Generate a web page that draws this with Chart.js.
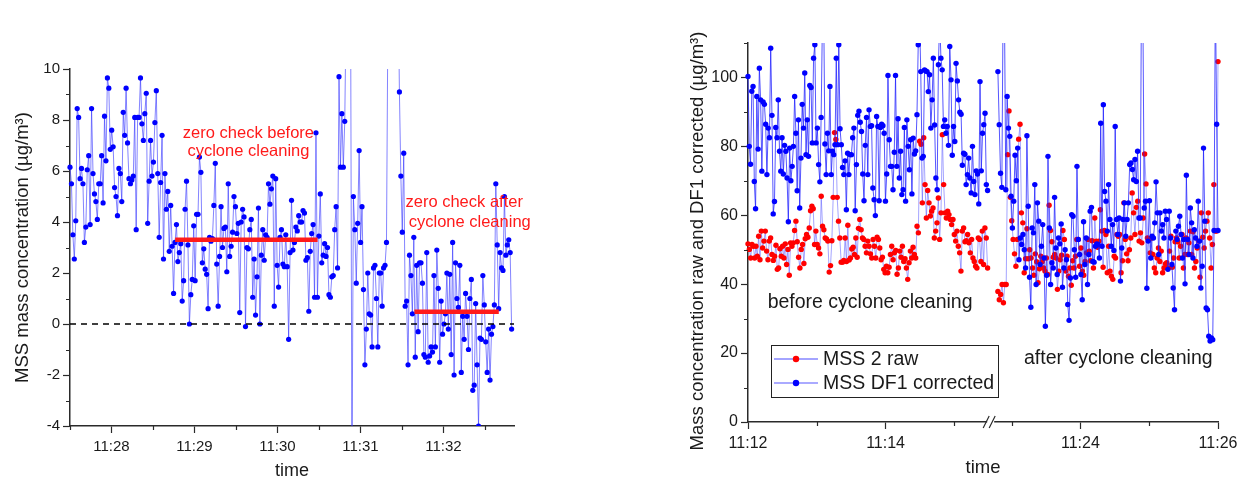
<!DOCTYPE html>
<html>
<head>
<meta charset="utf-8">
<script src="https://cdn.jsdelivr.net/npm/chart.js@4.4.1/dist/chart.umd.min.js"></script>
<style>
  body { margin: 0; background: #fff; width: 1252px; height: 482px; overflow: hidden; position: relative; }
  .panel { position: absolute; top: 0; height: 482px; }
  #leftPanel { left: 0; width: 560px; }
  #rightPanel { left: 640px; width: 612px; }
</style>
</head>
<body>
<div class="panel" id="leftPanel"><canvas id="zeroChart"></canvas></div>
<div class="panel" id="rightPanel"><canvas id="cycloneChart"></canvas></div>
<script>
const FONT = 'Arial, "Liberation Sans", Helvetica, sans-serif';
const INK = '#1a1a1a';
const AXIS = '#2a2a2a';
const RED = '#ff1a1a';

// ---- left panel: zero check, ~1 s samples from 11:27:30 (seconds of day)
const zeroStart = 41250;
const zeroStep = 1.04;
const zeroValues = [
  6.15, 5.5, 3.5, 2.55, 4.05, 8.45, 8.1, 5.7, 6.1, 5.5,
  3.2, 3.8, 6.05, 6.6, 3.9, 8.45, 5.9, 5.1, 4.8, 4.1,
  5.5, 5.5, 6.6, 4.75, 8.15, 6.4, 9.65, 9.25, 6.85, 7.6,
  6.95, 5.35, 5.0, 4.25, 6.1, 5.9, 4.8, 8.3, 7.4, 9.25,
  7.1, 5.7, 5.5, 5.65, 5.8, 8.1, 3.7, 8.1, 8.1, 9.65,
  7.85, 7.2, 8.25, 9.05, 3.95, 5.6, 7.2, 5.8, 6.35, 7.9,
  9.15, 5.9, 3.4, 5.55, 7.4, 2.55, 5.9, 4.5, 5.2, 2.85,
  4.65, 3.05, 1.2, 3.2, 3.9, 2.45, 2.8, 3.15, 0.9, 1.7,
  4.5, 5.6, 3.1, 0.0, 1.15, 1.75, 3.85, 1.7, 4.3, 4.3,
  6.55, 5.95, 2.4, 2.95, 2.15, 1.95, 0.6, 3.4, 3.25, 3.35,
  4.65, 6.3, 2.35, 0.7, 2.65, 4.6,
  3.0, 3.75, 3.8, 2.05, 5.5, 2.65, 3.05, 3.6, 5.0, 4.6,
  3.55, 3.95, 0.45, 4.0, 4.5, 4.2, -0.1, 3.0, 2.95, 3.7,
  4.1, 1.05, 2.55, 0.35, 1.85, 4.55, 0.0, 2.7, 3.7, 2.5,
  3.5, 3.4, 5.5, 4.7, 5.3, 5.8, 0.7, 5.7, 2.3, 1.45,
  3.4, 3.7, 2.35, 2.25, 3.5, 2.25, -0.6, 2.8, 4.85, 2.9,
  3.2, 3.8, 3.65, 4.25, 4.0, 4.0, 4.45, 4.35, 2.5, 2.6,
  0.5, 2.85, 3.55, 3.9, 1.05, 7.5, 1.05, 3.45, 5.1, 2.4,
  2.7, 3.15, 2.65, 3.0, 1.15, 1.05, 1.85, 1.9, 3.7, 4.6,
  2.2, 9.7, 6.15, 8.25, 6.15, 7.95, 12.5, 15, 11.8, 14,
  -6, 5.0, 3.7, 1.6, 3.95, 6.8, 3.2, 4.6, 1.35,
  -1.6, -0.2, 2.0, 0.4, 0.35, -0.9, 2.2, 2.3, 1.0, -0.9, 2.0,
  2.0, 0.7, 2.2, 2.3, 3.2, 12, 15.5, 11, 13.5, 16,
  12.5, 11.5, 14, 9.1, 5.8, 3.6, 6.7, 0.7, 0.9, -1.6,
  2.7, 1.9, 0.4, 3.4, -1.3, 2.3, -0.3, 2.4, 2.4, 1.6,
  -1.2, -1.3, 2.8, -1.5, -1.25, -0.9, -1.1, 1.9, -0.9, 2.9,
  1.4, -1.5, 0.9, -0.4, 0.0, 0.4, 2.0, -0.2, 1.95, -1.2,
  3.2, -2.0, 2.4, 1.0, 0.65, 2.3, -1.9, 0.3, -0.6, 1.2,
  0.3, -1.0, 1.0, 1.75, -2.6, -2.4, 0.8, -1.6, -4.0, -0.55,
  -0.6, 1.9, 0.75, -0.7, -1.9, -0.2, -2.2, -0.4, -0.1, 0.75,
  5.5, 3.1, 0.6, 2.8, 2.2, 2.1, 5.0, 2.7, 3.1, 3.3,
  2.8, -0.2
];
// zero check averages (start, end in seconds of day)
const checkFrom = [41326, 41499];
const checkTo = [41429, 41560];
const checkLevel = [3.3, 0.48];
const zeroRange = [41250, 41571];

// ---- right panel: raw vs corrected, seconds after 11:12
const breakAt = 213;      // axis position of the cut
const gapLength = 430;    // seconds hidden by the cut
const beforeSpan = [0, 209];
const afterSpan = [648, 840];
const rawBefore = [
  51.7, 50.1, 47.6, 51.5, 51, 47.6, 51, 48.1, 53.9, 47.1,
  55.4, 50.5, 52.5, 55.4, 49.6, 47.1, 52.5, 53.4, 48.6, 46.9,
  48.1, 51.3, 44.3, 44.7, 50.3, 48.1, 51, 47.6, 51.7, 45.7,
  50.1, 42.6, 52, 51, 52, 55.6, 58.3, 52.3, 47.8, 44.7,
  50.1, 51.5, 46, 53.2, 54.4, 53.6, 56.3, 61.3, 62.6, 61.9,
  51.5, 55.4, 51.5, 50.5, 48.8, 65.5, 56.8, 55.8, 53.4, 53.1,
  52.5, 43.5, 45.4, 52.6, 65.2, 84, 82, 65.2, 58.3, 53.4,
  46.4, 46.4, 46.9, 53.4, 46.6, 57.1, 47, 47.6, 50.2, 50.7,
  48.6, 53.4, 47.8, 56.2, 58.8, 55.8, 53.4, 53, 51, 49.1,
  52.5, 51, 48.8, 47.6, 53, 51, 47.6, 53.6, 53, 50.5,
  47.1, 47.8, 44.3, 43.3, 45.2, 43.3, 44.9, 48.6, 51, 47.1,
  49.1, 49.8, 42.9, 44.7, 49.6, 47.8, 51, 46.6, 47.4, 44.7,
  41.4, 46.2, 49.6, 47.6, 50.7, 48.6, 47.6, 56.8, 54.9, 81.5,
  80.6, 63.6, 82.5, 68.9, 59.2, 67.2, 63.6, 59.8, 61.2, 62.1,
  53.4, 55.4, 57.8, 65, 53, 60.7, 83.4, 68.9, 60.7, 59.2,
  61.2, 60.2, 58.8, 57.3, 58.8, 54.4, 52.5, 55.4, 51, 49.1,
  43.8, 55.4, 56.3, 52.3, 52.6, 54.4, 52, 49.1, 53, 47.6,
  46.6, 45.2, 44.7, 53.4, 53, 46.6, 55.4, 45.7, 56.3, 53.4, 44.7
];
const rawAfter = [
  37.9, 35.5, 37, 39.9, 34.6, 39.9, 39.9, 77.6, 90.3, 65.2,
  58.4, 53, 48.8, 45.2, 53, 82.1, 86.4, 60.7, 57.8, 43.3,
  47.4, 56.1, 47.4, 50, 47.6, 44.7, 42.6, 48.8, 46.5, 40.4,
  44.5, 48.1, 46.5, 44.7, 43.8, 47.6, 42.8, 62.9, 55.6, 52.3,
  47.8, 48.6, 47.6, 38.5, 43.8, 47.1, 48.4, 55.6, 53, 43.8,
  48.1, 42.3, 44.7, 39.7, 46.8, 44.7, 48.1, 53, 53, 45.2,
  50.5, 43.8, 42.6, 46.6, 49.1, 53, 49.6, 46.8, 52.6, 44.7,
  59.2, 52.5, 50.7, 52.5, 61.6, 55.4, 44.9, 55.6, 54.4, 43.3,
  51, 43.8, 42.3, 41.4, 48.1, 47.6, 54.4, 53.9, 54.4, 43.3,
  46.8, 63.6, 53, 48.8, 46.8, 50, 53.4, 66.5, 60.7, 54.4,
  62.3, 64.1, 52.5, 54.9, 52, 59.2, 77.8, 69.1, 53.4, 53,
  49.1, 53.4, 48.6, 44.7, 43.3, 47.6, 50.5, 46.6, 49.6, 43.3,
  44.7, 45.9, 46.2, 44.7, 49.6, 53.9, 44.9, 47.6, 52.3, 53.4,
  52.3, 47.6, 51, 54.4, 44.7, 48.6, 53.4, 48.6, 52, 55.4,
  48.6, 55.2, 44.7, 46.6, 50.5, 52.5, 42, 60.7, 53.6, 50.5,
  55.4, 58.3, 60.7, 53.4, 44.7, 51.5, 68.9, 55.4, 55.4, 104.6
];
const corrBefore = [
  100.3, 80, 74.8, 96, 97.4, 69.8, 61.9, 94.5, 79.2, 102.7,
  93.5, 72.8, 92.9, 92.2, 86.4, 71.8, 85.3, 82.5, 108.5, 89,
  60.4, 64, 85.5, 82.5, 93.5, 78.6, 72.8, 82.5, 72, 80.3,
  78.6, 70.8, 58.1, 79.5, 70, 74.2, 80, 94.5, 83.8, 67.1,
  87.7, 62.1, 76.6, 92.2, 85.3, 101.3, 77.6, 87.7, 77.1, 97.7,
  97.1, 81, 105.6, 109.5, 81, 85.3, 74.7, 69.7, 88.4, 116,
  121, 80.7, 71.8, 83.8, 78.7, 97.4, 71.8, 78.6, 77.6, 80.5,
  105.6, 80.5, 109.5, 85.1, 80.5, 73.9, 71.8, 75.8, 61.6, 78,
  71.8, 77.6, 77.6, 82.5, 85.3, 61.3, 74.7, 89, 90.2, 87,
  84.3, 72, 64.2, 80.3,
  88.4, 71.8, 90.6, 85.8, 86, 67.9, 64.5, 59.9, 88.7, 85.8,
  64.2, 85.5, 86.4, 86, 83.8, 64.1, 72, 100.6, 81.9, 74.2,
  74.2, 67.4, 78.3, 100.6, 74.2, 88, 70.8, 78.6, 66, 67.4,
  85.5, 64.1, 87.7, 80, 73.2, 81.9, 66.2, 82.4, 77.8, 78.7,
  89.2, 109.5, 118, 101.7, 76.6, 77.1, 102.2, 101.9, 101.7, 95.9,
  100.8, 85.3, 93.5, 105.6, 86.2, 70.8, 67.4, 103.7, 117, 105.6,
  102.2, 85.8, 87.7, 83.8, 85.8, 80.3, 109, 99.3, 77.4, 85.8,
  81.4, 104.1, 99, 93.5, 89.9, 89.3, 74.5, 78, 77.7, 68.9,
  71.8, 76.6, 70.8, 66.5, 80, 69.8, 66, 72.9, 72, 63.3,
  98.8, 72.9, 83.8, 86.3, 89.6, 68.9, 67.2
];
const corrAfter = [
  101.7, 86.3, 72.2, 68.1, 125, 118, 67.4, 94.5, 85.3, 82.9,
  65.5, 56.3, 64.1, 77.4, 70, 79.5, 47.1, 53.4, 51.5, 54.4,
  50, 44.7, 83.1, 62.6, 42, 33.3, 56.3, 54.9, 68.9, 39.9,
  63.6, 58.3, 45.7, 51, 57.3, 47.6, 27.8, 42.6, 77.1, 56.3,
  39.9, 46.2, 44.7, 65.2, 50.5, 42.8, 53.4, 51.7, 57.5, 39.1,
  44.7, 50, 47.1, 34.1, 29.5, 41.8, 60.2, 59.7, 50, 42,
  74.2, 53, 48.6, 42.8, 35.5, 58.1, 45.7, 53.4, 39.9, 48.6,
  61.2, 62.3, 46.6, 46.4, 51, 51.7, 51.5, 47.6, 86.7, 51,
  92.1, 66.9, 64.1, 55.4, 68.9, 58.8, 51, 57.3, 49.8, 85.8,
  58.8, 54.4, 59.2, 40.9, 50.5, 58.8, 63.6, 53.9, 58.8, 63.6,
  74.7, 75.2, 73.3, 70.3, 76.2, 69.8, 78.6, 59.2, 59.2, 130,
  120, 62.1, 64.1, 38.8, 52.5, 64.2, 47.6, 53.9, 53.4, 57.8,
  69.7, 60.7, 48.6, 60.7, 55.4, 57.3, 53.4, 61.2, 58.8, 44.3,
  61.2, 53.4, 45.7, 38.9, 32.6, 55.4, 53, 56.8, 59.7, 54.4,
  47.6, 53, 40.1, 71.6, 53, 48.6, 62.1, 57.8, 47.6, 55.8,
  53.4, 51, 64.1, 52.5, 38.9, 45.2, 79.5, 58.3, 33.1, 32.6,
  24.9, 23.5, 24.4, 23.9, 55.6, 125, 86.4, 55.6
];

Chart.defaults.font.family = FONT;
Chart.defaults.color = INK;
Chart.defaults.animation = false;

// evenly spaced sample times between two instants
function sampleTimes(span, n) {
  return Array.from({ length: n }, (_, i) => span[0] + (span[1] - span[0]) * i / (n - 1));
}
// real time -> position on the cut axis
function toAxis(t) { return t > breakAt ? t - gapLength : t; }
function points(times, values) { return values.map((v, i) => ({ x: toAxis(times[i]), y: v })); }
function clock(sec) {
  const h = Math.floor(sec / 3600), m = Math.floor((sec % 3600) / 60);
  return h + ':' + String(m).padStart(2, '0');
}
function tickList(values, isMajor) { return values.map(v => ({ value: v, major: isMajor(v) })); }
function stepRange(a, b, s) { const out = []; for (let v = a; v <= b + 1e-9; v += s) out.push(v); return out; }

// short unlabeled ticks between the labelled ones
const minorTicks = {
  id: 'minorTicks',
  afterDraw(chart) {
    const { ctx } = chart;
    const xs = chart.scales.x, ys = chart.scales.y;
    ctx.save();
    ctx.strokeStyle = AXIS;
    ctx.lineWidth = 1.2;
    ctx.beginPath();
    xs.ticks.forEach(t => {
      if (t.major) return;
      const px = Math.round(xs.getPixelForValue(t.value)) + 0.5;
      ctx.moveTo(px, xs.top); ctx.lineTo(px, xs.top + 4);
    });
    ys.ticks.forEach(t => {
      if (t.major) return;
      const py = Math.round(ys.getPixelForValue(t.value)) + 0.5;
      ctx.moveTo(ys.right, py); ctx.lineTo(ys.right - 4, py);
    });
    ctx.stroke();
    ctx.restore();
  }
};

function notesPlugin(notes, size, color) {
  return {
    id: 'notes',
    afterDatasetsDraw(chart) {
      const { ctx } = chart;
      ctx.save();
      ctx.font = size + 'px ' + FONT;
      ctx.fillStyle = color;
      ctx.textAlign = 'center';
      ctx.textBaseline = 'middle';
      notes.forEach(n => {
        ctx.fillText(n.text, chart.scales.x.getPixelForValue(n.x), chart.scales.y.getPixelForValue(n.y));
      });
      ctx.restore();
    }
  };
}

// rotated y title at a fixed centre (sits a little below the plot middle)
function sideTitle(text, size, cx, cy) {
  return {
    id: 'sideTitle',
    afterDraw(chart) {
      const { ctx } = chart;
      ctx.save();
      ctx.translate(cx, cy);
      ctx.rotate(-Math.PI / 2);
      ctx.font = size + 'px ' + FONT;
      ctx.fillStyle = INK;
      ctx.textAlign = 'center';
      ctx.textBaseline = 'middle';
      ctx.fillText(text, 0, 0);
      ctx.restore();
    }
  };
}

function axisOptions(extra) {
  return Object.assign({
    type: 'linear',
    grid: {
      drawOnChartArea: false,
      tickLength: 7,
      tickWidth: 1.2,
      tickColor: c => (c.tick && c.tick.major ? AXIS : 'rgba(0,0,0,0)')
    },
    border: { color: AXIS, width: 1.5 }
  }, extra);
}

// ---------------- left chart
new Chart(document.getElementById('zeroChart'), {
  type: 'line',
  data: {
    datasets: [
      {
        data: [{ x: checkFrom[0], y: checkLevel[0] }, { x: checkTo[0], y: checkLevel[0] }],
        borderColor: RED, borderWidth: 4.5, pointRadius: 0
      },
      {
        data: [{ x: checkFrom[1], y: checkLevel[1] }, { x: checkTo[1], y: checkLevel[1] }],
        borderColor: RED, borderWidth: 4.5, pointRadius: 0
      },
      {
        data: [{ x: zeroRange[0], y: 0 }, { x: zeroRange[1], y: 0 }],
        borderColor: '#000', borderWidth: 1.3, borderDash: [6, 5], pointRadius: 0
      },
      {
        label: 'MSS',
        data: zeroValues.map((v, i) => ({ x: zeroStart + i * zeroStep, y: v })),
        borderColor: 'rgba(50,50,255,0.6)', borderWidth: 1,
        pointRadius: 2.6, pointBackgroundColor: '#0000ff', pointBorderWidth: 0,
        clip: { left: 4, right: 4, top: 0, bottom: 0 }
      }
    ]
  },
  options: {
    responsive: true,
    maintainAspectRatio: false,
    layout: { padding: { left: 0, top: 69, right: 46, bottom: 0 } },
    elements: { line: { tension: 0 } },
    plugins: { legend: { display: false }, tooltip: { enabled: false } },
    scales: {
      x: axisOptions({
        min: zeroRange[0], max: zeroRange[1],
        afterBuildTicks: ax => { ax.ticks = tickList(stepRange(41250, 41550, 30), v => v % 60 === 0); },
        afterFit: ax => { ax.height = 56; },
        ticks: {
          autoSkip: false, maxRotation: 0, padding: 5, font: { size: 15 },
          callback: (v, i, t) => (t[i].major ? clock(v) : '')
        },
        title: { display: true, text: 'time', font: { size: 18 }, padding: { top: 0, bottom: 0 } }
      }),
      y: axisOptions({
        min: -4, max: 10,
        afterBuildTicks: ax => { ax.ticks = tickList(stepRange(-4, 10, 1), v => v % 2 === 0); },
        afterFit: ax => { ax.width = 70; },
        ticks: { autoSkip: false, padding: 3, font: { size: 15 }, callback: (v, i, t) => (t[i].major ? v : '') },
        title: { display: true, text: 'MSS mass concentration (µg/m³)', font: { size: 18.5 }, padding: { top: 12, bottom: 0 } }
      })
    }
  },
  plugins: [minorTicks, notesPlugin([
    { text: 'zero check before', x: 41379, y: 7.49 },
    { text: 'cyclone cleaning', x: 41379, y: 6.76 },
    { text: 'zero check after', x: 41535, y: 4.76 },
    { text: 'cyclone cleaning', x: 41539, y: 3.98 }
  ], 16.5, RED)]
});

// ---------------- right chart
const rawPoints = points(sampleTimes(beforeSpan, rawBefore.length), rawBefore)
  .concat([{ x: breakAt, y: null }], points(sampleTimes(afterSpan, rawAfter.length), rawAfter));
const corrPoints = points(sampleTimes(beforeSpan, corrBefore.length), corrBefore)
  .concat([{ x: breakAt, y: null }], points(sampleTimes(afterSpan, corrAfter.length), corrAfter));

const boxLegend = {
  id: 'boxLegend',
  afterDraw(chart) {
    const { ctx, chartArea: a } = chart;
    const x0 = a.left + 23, y0 = a.top + 302, w = 227, h = 52;
    ctx.save();
    ctx.fillStyle = '#fff';
    ctx.fillRect(x0, y0, w, h);
    ctx.strokeStyle = '#222';
    ctx.lineWidth = 1;
    ctx.strokeRect(x0 + 0.5, y0 + 0.5, w, h);
    ctx.font = '19.5px ' + FONT;
    ctx.textBaseline = 'middle';
    chart.data.datasets.forEach((ds, i) => {
      const cy = y0 + 14 + i * 24;
      ctx.strokeStyle = ds.borderColor;
      ctx.lineWidth = i === 0 ? 2 : 1.2;
      ctx.beginPath(); ctx.moveTo(x0 + 3, cy); ctx.lineTo(x0 + 47, cy); ctx.stroke();
      ctx.fillStyle = ds.pointBackgroundColor;
      ctx.beginPath(); ctx.arc(x0 + 25, cy, 3.2, 0, 2 * Math.PI); ctx.fill();
      ctx.fillStyle = INK;
      ctx.fillText(ds.label, x0 + 52, cy + 1);
    });
    ctx.restore();
  }
};

const axisBreak = {
  id: 'axisBreak',
  afterDraw(chart) {
    const { ctx } = chart;
    const xs = chart.scales.x;
    const px = xs.getPixelForValue(breakAt), y = xs.top;
    ctx.save();
    ctx.fillStyle = '#fff';
    ctx.fillRect(px - 5, y - 2, 7, 5);
    ctx.strokeStyle = AXIS;
    ctx.lineWidth = 1.2;
    ctx.beginPath();
    ctx.moveTo(px - 9, y + 6); ctx.lineTo(px - 3, y - 6);
    ctx.moveTo(px - 3, y + 6); ctx.lineTo(px + 3, y - 6);
    ctx.stroke();
    ctx.restore();
  }
};

new Chart(document.getElementById('cycloneChart'), {
  type: 'line',
  data: {
    datasets: [
      {
        label: 'MSS 2 raw',
        data: rawPoints,
        order: 2,
        borderColor: 'rgba(90,90,255,0.55)', borderWidth: 1,
        pointRadius: 2.7, pointBackgroundColor: '#ff0000', pointBorderWidth: 0,
        spanGaps: false,
        clip: { left: 4, right: 4, top: 0, bottom: 0 }
      },
      {
        label: 'MSS DF1 corrected',
        data: corrPoints,
        order: 1,
        borderColor: 'rgba(30,30,255,0.75)', borderWidth: 1,
        pointRadius: 2.7, pointBackgroundColor: '#0000ff', pointBorderWidth: 0,
        spanGaps: false,
        clip: { left: 4, right: 4, top: 0, bottom: 0 }
      }
    ]
  },
  options: {
    responsive: true,
    maintainAspectRatio: false,
    layout: { padding: { left: 40, top: 43, right: 34, bottom: 0 } },
    elements: { line: { tension: 0 } },
    plugins: { legend: { display: false }, tooltip: { enabled: false } },
    scales: {
      x: axisOptions({
        min: 0, max: 410,
        afterBuildTicks: ax => {
          ax.ticks = tickList([0, 60, 120, 180, 230, 290, 350, 410], v => [0, 120, 290, 410].includes(v));
        },
        afterFit: ax => { ax.height = 60; },
        ticks: {
          autoSkip: false, maxRotation: 0, padding: 5, font: { size: 16 },
          callback: (v, i, t) => (t[i].major ? clock(40320 + (v > breakAt ? v + gapLength : v)) : '')
        },
        title: { display: true, text: 'time', font: { size: 18.5 }, padding: { top: 0, bottom: 3 } }
      }),
      y: axisOptions({
        min: 0, max: 110,
        afterBuildTicks: ax => { ax.ticks = tickList(stepRange(0, 110, 10), v => v % 20 === 0); },
        afterFit: ax => { ax.width = 68; },
        ticks: { autoSkip: false, padding: 3, font: { size: 16 }, callback: (v, i, t) => (t[i].major ? v : '') },
        title: { display: false }
      })
    }
  },
  plugins: [minorTicks, axisBreak, boxLegend,
    sideTitle('Mass concentration raw and DF1 corrected (µg/m³)', 18.5, 58, 241),
    notesPlugin([
      { text: 'before cyclone cleaning', x: 106.5, y: 34.6 },
      { text: 'after cyclone cleaning', x: 323, y: 18.3 }
    ], 19.5, INK)]
});
</script>
</body>
</html>
